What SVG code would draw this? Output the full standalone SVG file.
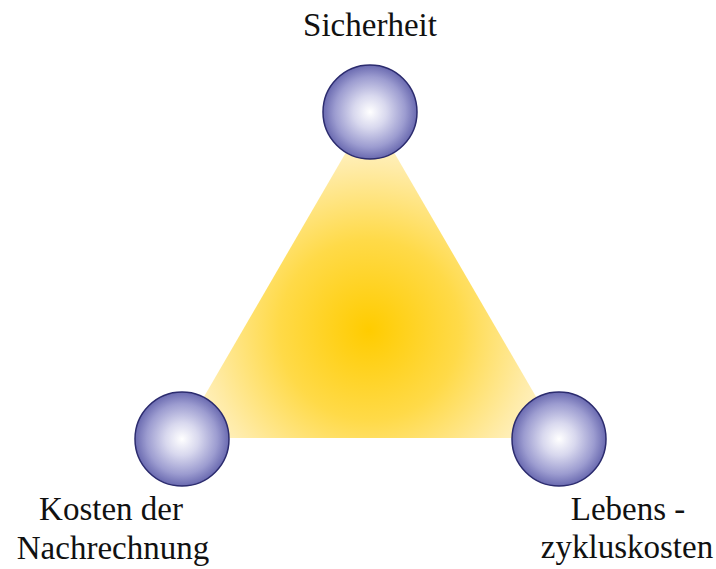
<svg xmlns="http://www.w3.org/2000/svg" width="716" height="569" viewBox="0 0 716 569">
<style>
.lbl{font-family:"Liberation Serif","Times New Roman",serif;font-size:33px;fill:#111;text-anchor:middle}
.ball{fill:url(#ballGrad);stroke:#2b2b6e;stroke-width:1.5}
</style>
<defs>
<radialGradient id="triGrad" cx="369" cy="330" r="225" gradientUnits="userSpaceOnUse">
<stop offset="0" stop-color="#ffcc00"/>
<stop offset="0.4" stop-color="#ffda48"/>
<stop offset="0.72" stop-color="#ffeba6"/>
<stop offset="1" stop-color="#fffbf0"/>
</radialGradient>
<radialGradient id="ballGrad" cx="0.5" cy="0.5" r="0.5">
<stop offset="0" stop-color="#ffffff"/>
<stop offset="0.35" stop-color="#d8d8ee"/>
<stop offset="0.75" stop-color="#9c9cd0"/>
<stop offset="1" stop-color="#6a6ab0"/>
</radialGradient>
</defs>
<g id="connectors">
<polygon id="triangle" points="370,111 180,438 560,438" fill="url(#triGrad)"/>
</g>
<g id="node-sicherheit">
<circle class="ball" cx="370" cy="112" r="47"/>
<text class="lbl" x="370" y="36">Sicherheit</text>
</g>
<g id="node-nachrechnung">
<circle class="ball" cx="182" cy="439" r="47"/>
<text class="lbl" x="111" y="520">Kosten der</text>
<text class="lbl" x="113" y="559">Nachrechnung</text>
</g>
<g id="node-lebenszyklus">
<circle class="ball" cx="559" cy="439" r="47"/>
<text class="lbl" x="628" y="520">Lebens -</text>
<text class="lbl" x="627" y="558">zykluskosten</text>
</g>
</svg>
